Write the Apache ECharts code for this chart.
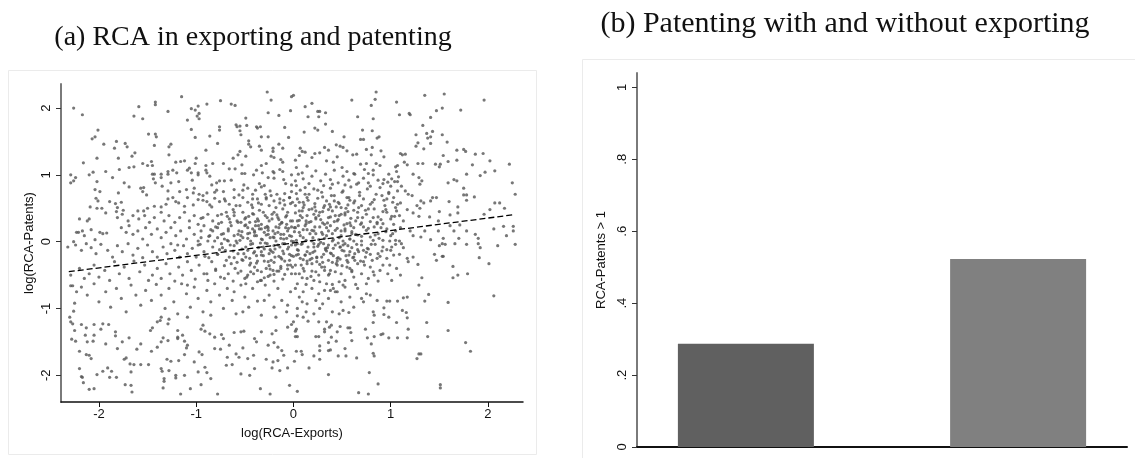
<!DOCTYPE html>
<html>
<head>
<meta charset="utf-8">
<script src="https://cdn.jsdelivr.net/npm/echarts@6/dist/echarts.min.js"></script>
<style>
  html, body { margin: 0; padding: 0; background: #fff; }
  #chart { width: 1135px; height: 458px; }
</style>
</head>
<body>
<div id="chart"></div>
<script>
// (a) log(RCA-Exports), log(RCA-Patents) pairs
const scatterUpperLeft = [
  [-2.26,2.00],[-2.17,1.90],[-1.15,2.17],[-1.42,2.09],[-1.42,2.05],[-1.59,2.02],[-1.29,1.95],[-1.64,1.88],[-1.55,1.84],[-1.05,1.99],
  [-1.01,1.97],[-0.98,2.03],[-0.99,1.88],[-0.97,1.92],[-0.97,1.84],[-0.89,2.06],[-0.75,2.11],[-0.64,2.06],[-0.60,2.04],[-1.09,1.82],
  [-1.05,1.68],[-1.01,1.56],[-0.76,1.72],[-0.76,1.67],[-0.86,1.58],[-0.78,1.47],[-0.90,1.37],[-2.01,1.67],[-2.04,1.57],[-2.07,1.54],
  [-1.95,1.46],[-1.82,1.50],[-1.84,1.40],[-1.73,1.47],[-1.71,1.42],[-1.49,1.61],[-1.42,1.61],[-1.41,1.57],[-1.43,1.44],[-1.26,1.46],
  [-1.28,1.42],[-1.28,1.30],[-1.63,1.33],[-1.66,1.28],[-1.80,1.25],[-2.02,1.25],[-2.16,1.18],[-1.55,1.17],[-1.50,1.14],[-1.46,1.20],
  [-1.45,1.14],[-1.69,1.11],[-1.64,1.12],[-1.79,1.08],[-1.93,1.05],[-2.06,1.04],[-2.10,1.00],[-2.29,1.00],[-2.24,0.96],[-2.26,0.91],
  [-2.29,0.88],[-1.86,0.96],[-1.74,0.88],[-1.69,0.82],[-2.02,0.90],[-2.04,0.78],[-1.99,0.75],[-1.80,0.73],[-2.03,0.65],[-2.01,0.61],
  [-2.09,0.52],[-2.02,0.50],[-1.97,0.50],[-1.89,0.60],[-1.83,0.57],[-1.77,0.59],[-1.81,0.51],[-1.82,0.45],[-1.75,0.47],[-1.93,0.43],
  [-2.20,0.34],[-2.12,0.31],[-2.10,0.34],[-2.23,0.14],[-2.21,0.14],[-2.17,0.16],[-2.15,0.09],[-2.08,0.18],[-1.99,0.14],[-1.96,0.12],
  [-1.92,0.13],[-2.04,0.03],[-2.26,0.00],[-1.57,0.80],[-1.54,0.81],[-1.55,0.75],[-1.51,0.70],[-1.45,1.01],[-1.43,1.01],[-1.36,1.01],
  [-1.36,0.96],[-1.44,0.94],[-1.42,0.88],[-1.29,1.01],[-1.29,1.05],[-1.24,1.07],[-1.26,0.88],[-1.21,1.19],[-1.16,1.20],[-1.12,1.21],
  [-1.00,1.25],[-1.01,1.17],[-0.90,1.14],[-0.90,1.07],[-0.89,1.03],[-0.83,1.17],[-0.72,1.17],[-1.07,1.10],[-1.09,1.07],[-0.98,1.03],
  [-0.98,1.00],[-1.20,1.03],[-1.18,0.90],[-1.05,1.03],[-1.04,0.92],[-0.86,0.98],[-0.84,0.85],[-0.79,0.88],[-0.76,0.91],[-0.71,0.91],
  [-0.64,0.92],[-0.66,1.09],[-0.60,1.09],[-0.62,1.25],[-0.57,1.30],[-0.55,1.35],[-0.53,1.02],[-0.50,1.02],[-0.53,1.15],[-0.49,1.28],
  [-0.58,1.72],[-0.55,1.73],[-0.55,1.66],[-0.48,1.74],[-0.59,1.75],[-0.54,1.60],[-0.49,1.85],[-0.38,1.72],[-0.34,1.72],[-0.37,1.70],
  [-0.46,1.51],[-0.46,1.46],[-0.44,1.42],[-0.33,1.57],[-0.26,1.57],[-0.35,1.43],[-0.33,1.37],[-0.27,2.24],[-0.23,2.12],[-0.26,1.93],
  [-0.15,1.89],[-0.02,2.17],[-0.03,1.96],[-0.09,1.71],[-0.05,1.56],[-0.15,1.46],[-0.11,1.40],[-0.21,1.40],[-0.21,1.35],[-0.23,1.28],
  [-0.20,1.26],[-0.13,1.23],[-0.11,1.19],[-0.33,1.14],[-0.28,1.17],[-0.38,1.07],[-0.32,1.03],[-0.21,1.05],[-0.20,1.03],[-0.14,1.08],
  [-0.11,1.05],[-0.41,1.00],[-0.26,0.96],[-0.20,0.95],[-0.35,0.87],[-0.33,0.82],[-0.30,0.84],[-0.10,0.93],[-0.08,0.87],[-0.02,1.00],
  [-0.02,0.85],
  [-1.35,0.83],[-1.29,0.76],[-1.17,0.75],[-1.10,0.78],[-1.03,0.73],[-1.02,0.80],[-0.97,0.71],[-0.89,0.73],[-0.79,0.77],[-0.72,0.75],
  [-0.61,0.78],[-0.51,0.85],[-0.47,0.80],[-0.42,0.71],[-0.39,0.77],[-0.29,0.71],[-0.24,0.76],[-0.17,0.71],[-0.09,0.72],[-0.02,0.75],
  [-1.60,0.46],[-1.54,0.46],[-1.50,0.50],[-1.43,0.53],[-1.36,0.52],[-1.31,0.56],[-1.29,0.64],[-1.24,0.66],[-1.21,0.60],[-1.18,0.58],
  [-1.12,0.53],[-1.09,0.66],[-1.03,0.55],[-0.98,0.63],[-0.93,0.69],[-0.89,0.60],[-0.86,0.55],[-0.81,0.65],[-0.76,0.60],[-0.71,0.64],
  [-0.66,0.56],[-0.61,0.66],[-0.55,0.54],[-0.52,0.66],[-0.47,0.59],[-0.42,0.51],[-0.37,0.64],[-0.33,0.56],[-0.28,0.66],[-0.25,0.54],
  [-0.20,0.61],[-0.14,0.64],[-0.09,0.55],[-0.04,0.66],[-0.01,0.59],
  [-1.81,0.36],[-1.76,0.41],[-1.70,0.31],[-1.65,0.39],[-1.59,0.34],[-1.53,0.39],[-1.48,0.29],[-1.43,0.36],[-1.36,0.44],[-1.33,0.31],
  [-1.28,0.39],[-1.22,0.29],[-1.17,0.36],[-1.12,0.44],[-1.07,0.31],[-1.02,0.39],[-0.98,0.26],[-0.93,0.36],[-0.88,0.41],[-0.83,0.31],
  [-0.78,0.39],[-0.74,0.29],[-0.69,0.44],[-0.66,0.34],[-0.61,0.39],[-0.57,0.29],[-0.52,0.44],[-0.49,0.36],[-0.45,0.29],[-0.41,0.41],
  [-0.37,0.34],[-0.33,0.26],[-0.29,0.39],[-0.25,0.31],[-0.20,0.44],[-0.16,0.36],[-0.12,0.29],[-0.07,0.39],[-0.03,0.31],
  [-1.77,0.21],[-1.72,0.14],[-1.69,0.24],[-1.65,0.11],[-1.60,0.16],[-1.55,0.04],[-1.52,0.21],[-1.46,0.11],[-1.40,0.19],[-1.36,0.06],
  [-1.31,0.14],[-1.26,0.21],[-1.21,0.09],[-1.16,0.16],[-1.10,0.04],[-1.07,0.21],[-1.02,0.11],[-0.98,0.01],[-0.95,0.16],[-0.92,0.24],
  [-0.86,0.09],[-0.83,0.16],[-0.81,0.01],[-0.78,0.21],[-0.74,0.11],[-0.71,0.04],[-0.67,0.16],[-0.64,0.24],[-0.61,0.09],[-0.59,0.01],
  [-0.56,0.16],[-0.52,0.06],[-0.50,0.24],[-0.47,0.12],[-0.44,0.01],[-0.42,0.19],[-0.38,0.09],[-0.36,0.24],[-0.33,0.04],[-0.30,0.14],
  [-0.26,0.21],[-0.24,0.06],[-0.21,0.16],[-0.18,0.01],[-0.15,0.21],[-0.13,0.11],[-0.10,0.04],[-0.06,0.16],[-0.04,0.09],[-0.02,0.22],
  [-0.54,0.29],[-0.47,0.21],[-0.40,0.14],[-0.33,0.19],[-0.26,0.11],[-0.20,0.06],[-0.14,0.26],[-0.08,0.21],[-0.02,0.01],[-0.57,0.11],
  [-0.67,0.01],[-0.78,0.06],[-0.88,0.01],[-0.95,0.06]
];

const scatterUpperRight = [
  [0.00,2.19],[0.12,2.02],[0.19,2.07],[0.15,1.87],[0.25,1.95],[0.27,1.95],[0.26,1.87],[0.33,1.93],[0.33,1.76],[0.22,1.70],
  [0.25,1.67],[0.11,1.64],[0.40,1.65],[0.60,2.12],[0.85,2.24],[0.84,2.13],[0.80,2.04],[0.82,1.84],[0.66,1.87],[0.71,1.67],
  [0.81,1.66],[0.52,1.57],[0.69,1.53],[0.72,1.53],[0.86,1.55],[0.88,1.57],[1.06,2.09],[1.09,1.90],[1.19,1.92],[1.20,1.90],
  [1.35,2.19],[1.55,2.21],[1.47,1.96],[1.53,2.00],[1.41,1.86],[1.72,1.97],[1.96,2.12],[1.33,1.74],[1.37,1.62],[1.41,1.57],
  [1.38,1.55],[1.43,1.65],[1.53,1.60],[1.26,1.60],[1.28,1.48],[1.26,1.43],[1.41,1.47],[1.34,1.39],[1.58,1.49],[1.68,1.37],
  [1.77,1.35],[1.75,1.38],[1.87,1.31],[1.95,1.32],[1.59,1.20],[1.54,1.29],[1.51,1.16],[1.50,1.12],[1.46,1.16],[1.68,1.22],
  [1.84,1.15],[2.02,1.21],[2.22,1.16],[2.07,1.06],[1.97,1.04],[1.92,0.99],[1.78,1.01],[1.65,0.93],[1.59,0.88],[1.68,0.91],
  [2.25,0.88],[2.28,0.71],[1.86,0.67],[1.75,0.80],[1.75,0.70],[1.78,0.70],[1.78,0.62],[2.07,0.58],[2.12,0.58],[2.02,0.48],
  [1.96,0.41],[2.17,0.50],[1.60,0.60],[1.50,0.45],[1.69,0.52],[1.69,0.43],[1.61,0.40],[1.40,0.37],[1.49,0.31],[1.47,0.66],
  [1.43,0.66],[1.41,0.61],[1.31,0.61],[1.34,0.58],[1.30,0.86],[1.32,0.91],[1.29,0.96],[1.23,1.01],[1.28,1.17],[1.33,1.17],
  [1.17,1.15],[1.14,1.19],[1.10,1.32],[1.12,1.30],[1.07,1.14],[1.15,1.31],[0.90,1.36],[0.93,1.27],[0.81,1.41],[0.80,1.30],
  [0.75,1.38],[0.85,1.17],[0.89,1.14],[0.75,1.17],[0.73,1.08],[0.69,1.16],[0.65,1.31],[0.61,1.30],[0.55,1.36],[0.51,1.41],
  [0.48,1.43],[0.44,1.45],[0.36,1.37],[0.32,1.41],[0.27,1.33],[0.22,1.32],[0.19,1.26],[0.07,1.40],[0.09,1.35],[0.12,1.34],
  [0.06,1.29],[0.02,1.22],[0.45,1.27],[0.34,1.21],[0.41,1.19],[0.50,1.11],[0.55,1.05],[0.63,1.01],[0.77,1.02],[0.82,1.07],
  [1.05,1.12],[1.06,1.05],[1.08,0.97],[1.04,0.90],[1.07,0.90],[0.93,0.93],[0.97,0.89],[1.00,0.83],[1.11,0.83],[1.15,0.76],
  [1.18,0.71],[1.22,0.69],[1.27,0.54],[1.30,0.50],[1.17,0.48],[1.23,0.43],[1.29,0.38],[1.07,0.76],[1.03,0.66],[1.10,0.58],
  [1.06,0.46],[1.01,0.38],[1.13,0.31],[1.20,0.16],[1.23,0.09],[1.35,0.16],[1.31,0.07],[1.41,0.03],[1.65,0.16],[1.54,0.05],
  [1.70,0.05],[1.87,0.11],[2.06,0.19],[2.16,0.23],[2.26,0.23],[2.26,0.16],[2.19,0.09],[1.90,0.05],[1.78,0.16],[1.71,0.25],
  [1.61,0.24],[1.49,0.16],
  [0.03,1.11],[0.09,1.03],[0.14,1.13],[0.19,0.98],[0.23,1.06],[0.28,0.91],[0.33,1.01],[0.38,0.93],[0.42,1.07],[0.46,0.88],
  [0.51,0.98],[0.57,0.92],[0.62,1.02],[0.67,0.88],[0.72,0.95],[0.77,0.88],[0.82,1.00],[0.87,0.92],[0.92,0.87],[0.98,1.01],
  [1.01,0.94],[0.02,0.91],[0.10,0.94],[0.16,0.87],[0.05,1.01],
  [0.03,0.84],[0.07,0.77],[0.12,0.81],[0.16,0.71],[0.21,0.79],[0.25,0.65],[0.29,0.74],[0.34,0.61],[0.38,0.80],[0.42,0.69],
  [0.46,0.59],[0.51,0.76],[0.55,0.66],[0.59,0.82],[0.63,0.61],[0.68,0.74],[0.72,0.64],[0.76,0.79],[0.81,0.59],[0.85,0.71],
  [0.89,0.81],[0.93,0.62],[0.98,0.74],[1.02,0.59],[0.04,0.64],[0.10,0.59],[0.14,0.66],[0.22,0.57],[0.31,0.84],[0.40,0.86],
  [0.53,0.85],[0.65,0.86],[0.79,0.83],[0.91,0.69],[0.96,0.64],
  [0.02,0.54],[0.06,0.46],[0.10,0.51],[0.14,0.39],[0.19,0.49],[0.23,0.34],[0.27,0.44],[0.32,0.54],[0.36,0.36],[0.40,0.46],
  [0.45,0.31],[0.49,0.51],[0.53,0.40],[0.58,0.28],[0.62,0.47],[0.66,0.36],[0.70,0.54],[0.75,0.41],[0.79,0.30],[0.83,0.49],
  [0.87,0.37],[0.92,0.27],[0.96,0.44],[1.00,0.34],[1.05,0.51],[1.09,0.39],[0.04,0.31],[0.09,0.36],[0.13,0.27],[0.21,0.41],
  [0.30,0.28],[0.38,0.52],[0.47,0.39],[0.56,0.55],[0.69,0.26],[0.77,0.49],[0.86,0.29],[0.94,0.54],[1.03,0.26],
  [0.02,0.21],[0.06,0.14],[0.10,0.06],[0.14,0.18],[0.19,0.01],[0.23,0.12],[0.27,0.22],[0.32,0.05],[0.36,0.16],[0.40,0.01],
  [0.45,0.20],[0.49,0.09],[0.53,0.16],[0.58,0.04],[0.62,0.21],[0.66,0.10],[0.70,0.01],[0.75,0.17],[0.79,0.07],[0.83,0.22],
  [0.87,0.12],[0.92,0.02],[0.96,0.19],[1.00,0.09],[1.05,0.16],[1.09,0.01],[0.03,0.02],[0.12,0.24],[0.21,0.16],[0.30,0.11],
  [0.38,0.24],[0.51,0.01],[0.60,0.12],[0.72,0.22],[0.82,0.02],[0.90,0.21],[0.99,0.01]
];

const scatterLowerLeft = [
  [-2.29,-0.66],[-2.27,-0.66],[-2.23,-0.75],[-2.25,-0.92],[-2.26,-1.04],[-2.30,-1.13],[-2.29,-1.20],[-2.27,-1.23],[-2.25,-1.33],[-2.28,-1.46],
  [-2.24,-1.49],[-2.20,-1.64],[-2.13,-1.69],[-2.10,-1.70],[-2.08,-1.75],[-2.20,-1.90],[-2.18,-2.02],[-2.17,-2.03],[-2.16,-2.11],[-2.10,-2.21],
  [-2.05,-2.20],[-2.02,-1.99],[-1.96,-1.94],[-1.91,-1.89],[-1.89,-2.03],[-1.82,-2.03],[-1.87,-1.94],[-2.12,-1.50],[-2.06,-1.49],[-2.14,-1.40],
  [-2.05,-1.40],[-2.18,-1.24],[-2.13,-1.29],[-1.98,-1.31],[-1.93,-1.53],[-1.83,-1.35],[-1.81,-1.60],[-1.74,-1.76],[-1.72,-1.74],[-1.68,-1.83],
  [-1.64,-1.84],[-1.57,-1.84],[-1.73,-2.14],[-1.67,-2.15],[-1.66,-2.25],[-1.67,-1.95],[-1.49,-1.84],[-1.36,-1.90],[-1.35,-1.94],[-1.33,-2.05],
  [-1.33,-2.09],[-1.34,-2.19],[-1.28,-1.93],[-1.21,-2.00],[-1.21,-2.04],[-1.12,-2.00],[-1.16,-2.28],[-1.06,-2.20],[-0.98,-1.95],[-0.95,-2.14],
  [-0.91,-1.88],[-0.89,-1.96],[-0.85,-2.05],[-0.78,-2.28],[-0.69,-1.85],[-0.63,-1.84],[-0.54,-1.98],[-0.45,-2.00],[-0.40,-1.90],[-0.34,-2.20],
  [-0.24,-2.28],[-0.22,-1.89],[-0.14,-1.93],[-0.21,-1.80],[-0.16,-1.78],[-0.06,-1.89],[-0.04,-2.15],[-0.68,-1.73],[-0.47,-1.75],[-0.41,-1.70],
  [-0.28,-1.76],[-0.56,-1.73],[-0.97,-1.65],[-0.94,-1.69],[-1.02,-1.80],[-1.12,-1.69],[-1.18,-1.78],[-1.26,-1.79],[-1.30,-1.76],[-1.46,-1.64],
  [-1.40,-1.58],[-1.36,-1.50],[-1.34,-1.44],[-1.29,-1.48],[-1.19,-1.43],[-1.19,-1.45],[-1.14,-1.40],[-1.12,-1.49],[-1.09,-1.55],[-1.10,-1.59],
  [-1.61,-1.61],[-1.69,-1.44],[-1.57,-1.53],[-1.76,-1.50],[-1.83,-1.41],[-1.90,-1.24],[-1.96,-1.23],[-2.05,-1.24],[-1.47,-1.33],[-1.45,-1.29],
  [-1.40,-1.20],[-1.37,-1.18],[-1.29,-1.23],[-1.28,-1.16],[-1.19,-1.33],[-1.09,-1.13],[-0.93,-1.25],[-0.95,-1.31],[-0.91,-1.34],[-0.86,-1.38],
  [-0.81,-1.43],[-0.74,-1.39],[-0.72,-1.45],[-0.81,-1.60],[-0.75,-1.61],[-0.66,-1.55],[-0.59,-1.68],[-0.52,-1.59],[-0.61,-1.36],[-0.54,-1.35],
  [-0.51,-1.34],[-0.40,-1.45],[-0.38,-1.50],[-0.26,-1.55],[-0.20,-1.51],[-0.16,-1.58],[-0.12,-1.63],[-0.10,-1.70],[-0.33,-1.35],[-0.22,-1.38],
  [-0.18,-1.33],[-0.06,-1.28],[-0.02,-1.24],
  [-2.32,-0.08],[-2.24,-0.05],[-2.18,-0.13],[-2.13,-0.03],[-2.08,-0.09],[-2.03,-0.18],[-1.98,-0.04],[-1.91,-0.13],[-1.86,-0.23],[-1.81,-0.06],
  [-1.76,-0.15],[-1.70,-0.03],[-1.65,-0.20],[-1.60,-0.10],[-1.55,-0.24],[-1.50,-0.05],[-1.45,-0.15],[-1.40,-0.23],[-1.34,-0.08],[-1.30,-0.18],
  [-1.26,-0.03],[-1.22,-0.13],[-1.17,-0.23],[-1.13,-0.06],[-1.09,-0.18],[-1.04,-0.10],[-1.00,-0.23],[-0.96,-0.04],[-0.92,-0.15],[-0.87,-0.24],
  [-0.83,-0.08],[-0.78,-0.19],[-0.74,-0.03],[-0.70,-0.13],[-0.66,-0.23],[-0.61,-0.06],[-0.57,-0.18],[-0.53,-0.11],[-0.49,-0.23],[-0.44,-0.04],
  [-0.40,-0.15],[-0.36,-0.09],[-0.31,-0.21],[-0.27,-0.03],[-0.23,-0.14],[-0.19,-0.23],[-0.14,-0.08],[-0.10,-0.18],[-0.06,-0.11],[-0.02,-0.21],
  [-1.19,-0.05],[-0.61,-0.24],[-0.42,-0.03],[-0.30,-0.11],[-0.20,-0.06],[-0.11,-0.03],[-0.02,-0.05],[-0.47,-0.13],[-0.33,-0.20],[-0.25,-0.18],
  [-0.13,-0.24],
  [-2.29,-0.50],[-2.20,-0.40],[-2.15,-0.55],[-2.10,-0.48],[-2.05,-0.35],[-2.00,-0.53],[-1.94,-0.43],[-1.89,-0.58],[-1.84,-0.30],[-1.79,-0.48],
  [-1.74,-0.38],[-1.69,-0.55],[-1.64,-0.29],[-1.58,-0.45],[-1.53,-0.35],[-1.49,-0.58],[-1.45,-0.50],[-1.40,-0.40],[-1.36,-0.55],[-1.31,-0.33],
  [-1.27,-0.48],[-1.22,-0.59],[-1.18,-0.38],[-1.14,-0.50],[-1.09,-0.30],[-1.05,-0.43],[-1.01,-0.56],[-0.97,-0.35],[-0.92,-0.48],[-0.88,-0.58],
  [-0.84,-0.30],[-0.80,-0.43],[-0.75,-0.53],[-0.71,-0.36],[-0.67,-0.48],[-0.62,-0.59],[-0.58,-0.31],[-0.54,-0.44],[-0.50,-0.55],[-0.45,-0.35],
  [-0.41,-0.48],[-0.37,-0.29],[-0.33,-0.58],[-0.28,-0.40],[-0.24,-0.50],[-0.20,-0.31],[-0.15,-0.44],[-0.11,-0.56],[-0.06,-0.35],[-0.02,-0.48],
  [-0.52,-0.28],[-0.40,-0.38],[-0.33,-0.45],[-0.26,-0.30],[-0.13,-0.40],[-0.04,-0.28],[-0.47,-0.50],[-0.30,-0.54],[-0.20,-0.59],[-0.09,-0.49],
  [-0.37,-0.60],[-0.21,-0.43],
  [-2.18,-0.68],[-2.12,-0.80],[-2.05,-0.63],[-2.00,-0.90],[-1.93,-0.75],[-1.88,-0.98],[-1.82,-0.70],[-1.77,-0.85],[-1.72,-1.05],[-1.67,-0.65],
  [-1.62,-0.80],[-1.57,-0.95],[-1.52,-0.73],[-1.46,-0.88],[-1.41,-0.64],[-1.36,-0.80],[-1.32,-1.00],[-1.28,-0.70],[-1.23,-0.90],[-1.19,-1.08],
  [-1.15,-0.63],[-1.10,-0.78],[-1.06,-0.98],[-1.02,-0.68],[-0.98,-0.85],[-0.93,-1.05],[-0.89,-0.73],[-0.85,-0.90],[-0.81,-0.63],[-0.76,-0.80],
  [-0.72,-1.00],[-0.68,-0.70],[-0.63,-0.88],[-0.59,-1.08],[-0.54,-0.65],[-0.50,-0.83],[-0.46,-0.98],[-0.42,-0.70],[-0.37,-0.89],[-0.33,-1.10],
  [-0.29,-0.65],[-0.25,-0.80],[-0.20,-0.98],[-0.16,-0.70],[-0.12,-0.88],[-0.07,-1.05],[-0.03,-0.75],[-0.61,-0.75],[-0.52,-1.05],[-0.30,-0.88],
  [-0.18,-1.13],[-0.06,-0.95],[-1.36,-1.13],[-0.85,-1.10],[-1.09,-0.65],[-0.49,-0.63]
];

const scatterLowerRight = [
  [2.28,-0.04],[2.10,-0.06],[1.90,-0.03],[1.92,-0.09],[1.78,-0.04],[1.66,-0.03],[1.56,-0.04],[1.53,-0.03],[1.50,-0.06],[1.45,-0.19],
  [1.47,-0.28],[1.53,-0.22],[1.54,-0.22],[1.91,-0.24],[2.01,-0.33],[1.64,-0.37],[1.69,-0.50],[1.64,-0.54],[1.79,-0.48],[2.06,-0.81],
  [1.59,-0.91],[1.39,-0.79],[1.35,-0.89],[1.32,-0.54],[1.29,-0.65],[1.28,-0.34],[1.23,-0.23],[1.18,-0.30],[1.37,-1.21],[1.59,-1.33],
  [1.38,-1.42],[1.77,-1.51],[1.82,-1.64],[1.29,-1.68],[1.31,-1.68],[1.27,-1.75],[1.51,-2.14],[1.51,-2.19],[1.18,-1.31],[1.17,-1.44],
  [1.07,-1.44],[0.98,-1.44],[0.92,-1.38],[0.90,-1.39],[0.83,-1.42],[0.76,-1.44],[0.80,-1.53],[0.74,-1.31],[0.82,-1.21],[0.82,-1.05],
  [0.83,-1.10],[0.93,-0.99],[0.93,-1.09],[0.96,-0.89],[1.13,-0.84],[1.17,-0.83],[1.12,-1.03],[1.16,-1.06],[1.17,-1.14],[0.82,-1.67],
  [0.83,-1.71],[0.78,-1.96],[0.87,-2.13],[0.77,-2.28],[0.67,-2.26],[0.36,-1.99],[0.16,-1.89],[0.04,-2.24],[0.01,-1.79],[0.03,-1.64],
  [0.08,-1.64],[0.09,-1.69],[0.21,-1.71],[0.27,-1.76],[0.27,-1.63],[0.27,-1.56],[0.36,-1.63],[0.38,-1.62],[0.46,-1.71],[0.54,-1.71],
  [0.53,-1.60],[0.65,-1.74],[0.60,-1.48],[0.59,-1.36],[0.56,-1.29],[0.58,-1.29],[0.44,-1.49],[0.36,-1.51],[0.39,-1.43],[0.45,-1.35],
  [0.32,-1.31],[0.32,-1.35],[0.23,-1.42],[0.26,-1.42],[0.37,-1.28],[0.48,-1.27],[0.34,-1.20],[0.39,-1.25],[0.03,-1.31],[0.02,-1.34],
  [0.04,-1.42],[0.02,-1.42],[0.00,-1.20],[0.15,-1.19],[0.26,-1.20],[0.04,-1.11],[0.10,-1.13],[0.99,-0.89],[1.07,-0.89],[0.98,-1.13],
  [1.06,-1.21],
  [0.02,-0.05],[0.05,-0.13],[0.09,-0.03],[0.12,-0.20],[0.15,-0.08],[0.19,-0.25],[0.22,-0.14],[0.26,-0.04],[0.29,-0.23],[0.33,-0.10],
  [0.36,-0.28],[0.39,-0.18],[0.43,-0.05],[0.46,-0.24],[0.50,-0.13],[0.53,-0.03],[0.57,-0.20],[0.60,-0.09],[0.63,-0.28],[0.67,-0.15],
  [0.70,-0.05],[0.74,-0.23],[0.77,-0.11],[0.81,-0.28],[0.84,-0.04],[0.87,-0.18],[0.92,-0.08],[0.96,-0.25],[1.00,-0.13],[1.05,-0.04],
  [1.09,-0.19],[1.13,-0.09],[1.17,-0.25],[0.07,-0.25],[0.17,-0.18],[0.31,-0.03],[0.45,-0.29],[0.58,-0.15],[0.72,-0.13],[0.86,-0.25],
  [1.03,-0.20],[1.11,-0.03],[0.03,-0.20],[0.14,-0.29],[0.24,-0.23],[0.34,-0.14],[0.48,-0.08],[0.55,-0.28],[0.65,-0.04],[0.79,-0.19],
  [0.91,-0.14],[0.21,-0.03],[0.41,-0.10],[0.62,-0.23],[0.69,-0.29],
  [0.02,-0.35],[0.06,-0.48],[0.10,-0.40],[0.14,-0.55],[0.19,-0.33],[0.23,-0.45],[0.27,-0.60],[0.32,-0.38],[0.36,-0.50],[0.40,-0.64],
  [0.45,-0.35],[0.49,-0.48],[0.53,-0.58],[0.58,-0.40],[0.62,-0.53],[0.66,-0.33],[0.70,-0.48],[0.75,-0.63],[0.79,-0.38],[0.83,-0.50],
  [0.87,-0.59],[0.92,-0.35],[0.97,-0.48],[1.01,-0.58],[1.06,-0.40],[1.10,-0.50],[0.04,-0.63],[0.13,-0.64],[0.21,-0.58],[0.30,-0.31],
  [0.38,-0.43],[0.47,-0.60],[0.56,-0.31],[0.64,-0.64],[0.73,-0.35],[0.82,-0.45],[0.89,-0.43],[0.99,-0.35],[0.09,-0.54],[0.26,-0.50],
  [0.43,-0.45],[0.60,-0.43],[0.77,-0.55],[0.51,-0.65],[0.34,-0.63],
  [0.02,-0.70],[0.06,-0.83],[0.10,-0.75],[0.14,-0.93],[0.19,-0.70],[0.23,-0.88],[0.27,-1.00],[0.32,-0.73],[0.36,-0.85],[0.40,-1.05],
  [0.45,-0.75],[0.49,-0.90],[0.53,-0.68],[0.58,-0.83],[0.62,-0.98],[0.66,-0.70],[0.70,-0.85],[0.75,-0.78],[0.79,-0.80],[0.04,-1.00],
  [0.13,-1.05],[0.21,-1.08],[0.30,-0.93],[0.38,-0.73],[0.47,-1.08],[0.57,-1.06],[0.41,-0.70],[0.43,-0.75],[0.86,-0.88],[0.72,-0.90],
  [0.09,-0.90],[0.26,-0.78],[0.51,-1.03]
];

// the darker core around the origin
const scatterCore = [
  [-0.72,0.12],[-0.65,-0.05],[-0.58,0.31],[-0.51,-0.18],[-0.47,0.05],[-0.42,0.42],[-0.38,-0.32],[-0.35,0.19],[-0.31,-0.08],[-0.27,0.36],
  [-0.24,-0.41],[-0.21,0.07],[-0.18,0.51],[-0.15,-0.22],[-0.12,0.28],[-0.09,-0.03],[-0.06,0.44],[-0.03,-0.35],[0.01,0.15],[0.04,-0.12],
  [0.07,0.39],[0.10,-0.27],[0.13,0.02],[0.16,0.48],[0.19,-0.44],[0.22,0.22],[0.25,-0.07],[0.28,0.33],[0.31,-0.19],[0.34,0.09],
  [0.37,0.56],[0.40,-0.31],[0.43,0.17],[0.46,-0.02],[0.49,0.41],[0.52,-0.14],[0.55,0.27],[0.58,0.62],[0.61,-0.24],[0.64,0.11],
  [-0.69,-0.28],[-0.62,0.48],[-0.55,0.02],[-0.49,0.25],[-0.44,-0.45],[-0.40,0.09],[-0.36,0.58],[-0.33,-0.15],[-0.29,0.21],[-0.26,-0.52],
  [-0.22,0.34],[-0.19,-0.11],[-0.16,0.14],[-0.13,-0.37],[-0.10,0.62],[-0.07,0.05],[-0.04,-0.19],[-0.01,0.31],[0.02,-0.48],[0.05,0.24],
  [0.08,-0.04],[0.11,0.55],[0.14,-0.33],[0.17,0.12],[0.20,-0.16],[0.23,0.46],[0.26,0.03],[0.29,-0.38],[0.32,0.26],[0.35,-0.09],
  [0.38,0.37],[0.41,-0.21],[0.44,0.52],[0.47,0.06],[0.50,-0.36],[0.53,0.19],[0.56,-0.06],[0.59,0.35],[0.62,0.01],[0.66,0.44],
  [-0.80,0.22],[-0.76,-0.12],[-0.68,0.38],[-0.60,-0.40],[-0.53,0.15],[-0.45,-0.25],[-0.39,0.30],[-0.34,-0.02],[-0.28,0.10],[-0.23,-0.28],
  [-0.17,0.40],[-0.11,-0.14],[-0.05,0.20],[0.00,0.00],[0.06,0.32],[0.12,-0.20],[0.18,0.30],[0.24,-0.30],[0.30,0.45],[0.36,-0.05],
  [0.42,0.30],[0.48,-0.26],[0.54,0.50],[0.60,0.15],[0.70,0.28],[0.76,-0.10],[0.82,0.36],[0.88,0.05],[0.95,0.48],[1.02,0.12],
  [-0.95,0.35],[-0.91,-0.22],[-0.87,0.08],[-0.84,0.52],[-0.80,-0.41],[-0.77,0.27],[-0.73,-0.09],[-0.70,0.61],[-0.67,0.19],[-0.64,-0.33],
  [-0.61,0.44],[-0.58,-0.02],[-0.56,0.70],[-0.53,-0.27],[-0.50,0.34],[-0.48,-0.53],[-0.45,0.13],[-0.43,0.55],[-0.41,-0.17],[-0.39,0.24],
  [-0.37,-0.43],[-0.35,0.47],[-0.32,0.03],[-0.30,-0.29],[-0.28,0.64],[-0.26,0.17],[-0.24,-0.12],[-0.22,0.41],[-0.20,-0.49],[-0.18,0.22],
  [-0.16,-0.05],[-0.14,0.58],[-0.12,-0.26],[-0.10,0.11],[-0.08,0.37],[-0.06,-0.41],[-0.04,0.66],[-0.02,0.08],[0.00,-0.22],[0.02,0.43],
  [0.04,-0.03],[0.06,0.59],[0.08,-0.35],[0.10,0.18],[0.12,0.71],[0.14,-0.15],[0.16,0.29],[0.18,-0.52],[0.20,0.06],[0.22,0.52],
  [0.24,-0.24],[0.26,0.39],[0.28,-0.01],[0.30,0.67],[0.32,-0.43],[0.34,0.21],[0.36,0.48],[0.38,-0.17],[0.40,0.12],[0.42,0.61],
  [0.44,-0.33],[0.46,0.33],[0.48,-0.08],[0.50,0.74],[0.52,0.25],[0.54,-0.21],[0.56,0.45],[0.58,0.04],[0.60,-0.45],[0.62,0.58],
  [0.64,0.31],[0.66,-0.12],[0.68,0.69],[0.70,0.08],[0.72,-0.30],[0.74,0.47],[0.77,0.20],[0.80,-0.04],[0.83,0.63],[0.86,0.27],
  [0.89,-0.22],[0.92,0.45],[0.95,0.15],[0.98,0.72],[1.01,-0.08],[1.04,0.38],[1.07,0.56],[1.10,0.21],
  [-0.98,-0.05],[-0.93,0.62],[-0.89,-0.48],[-0.85,0.18],[-0.81,0.74],[-0.78,-0.19],[-0.74,0.41],[-0.71,-0.55],[-0.68,0.02],[-0.65,0.29],
  [-0.62,-0.14],[-0.59,0.54],[-0.57,-0.47],[-0.54,0.09],[-0.52,0.77],[-0.49,-0.08],[-0.46,0.38],[-0.44,-0.32],[-0.42,0.64],[-0.40,0.16],
  [-0.38,-0.21],[-0.36,0.31],[-0.34,-0.58],[-0.31,0.44],[-0.29,-0.02],[-0.27,0.23],[-0.25,-0.36],[-0.23,0.69],[-0.21,-0.16],[-0.19,0.12],
  [-0.17,-0.44],[-0.15,0.33],[-0.13,0.05],[-0.11,0.49],[-0.09,-0.29],[-0.07,0.26],[-0.05,-0.08],[-0.03,0.57],[-0.01,-0.38],[0.01,0.21],
  [0.03,0.72],[0.05,-0.19],[0.07,0.09],[0.09,0.46],[0.11,-0.44],[0.13,0.31],[0.15,0.62],[0.17,-0.27],[0.19,0.17],[0.21,-0.08],
  [0.23,0.36],[0.25,0.77],[0.27,-0.34],[0.29,0.14],[0.31,0.51],[0.33,-0.12],[0.35,0.28],[0.37,-0.48],[0.39,0.69],[0.41,0.03],
  [0.43,0.39],[0.45,-0.25],[0.47,0.57],[0.49,0.16],[0.51,-0.05],[0.53,0.43],[0.55,-0.38],[0.57,0.66],[0.59,0.24],[0.63,-0.18],
  [0.67,0.51],[0.71,0.36],[0.75,-0.16],[0.79,0.56],[0.84,0.10],[0.90,0.33],[0.96,-0.12],[1.05,0.02]
];

// fitted line, read at both ends
const fitExports = [-2.31, 2.25];
const fitPatents = [-0.45, 0.40];

// (b) share with RCA-Patents > 1, without / with export RCA
const barGroups = [0.4, 1.4];
const barShares = [0.287, 0.523];
const barColors = ['#606060', '#808080'];

const patentTicks = [0, 0.2, 0.4, 0.6, 0.8, 1];
const logTicks = [-2, -1, 0, 1, 2];

const chart = echarts.init(document.getElementById('chart'));

const sansFont = 'Liberation Sans, Arial, sans-serif';
const serifFont = 'Liberation Serif, Times New Roman, serif';

const points = scatterUpperLeft.concat(scatterUpperRight, scatterLowerLeft, scatterLowerRight, scatterCore);

const options = {
  animation: false,
  backgroundColor: '#fff',
  graphic: [
    { type: 'rect', shape: { x: 8.5, y: 70.5, width: 528, height: 384 }, style: { fill: 'none', stroke: '#ebebeb', lineWidth: 1 }, z: -1 },
    { type: 'rect', shape: { x: 582.5, y: 59.5, width: 600, height: 420 }, style: { fill: 'none', stroke: '#ebebeb', lineWidth: 1 }, z: -1 },
    { type: 'text', x: 253, y: 38, style: { text: '(a) RCA in exporting and patenting', font: '28px ' + serifFont, fill: '#111', textAlign: 'center', textVerticalAlign: 'middle' } },
    { type: 'text', x: 845, y: 24, style: { text: '(b) Patenting with and without exporting', font: '30px ' + serifFont, fill: '#111', textAlign: 'center', textVerticalAlign: 'middle' } }
  ],
  grid: [
    { left: 61, top: 84, width: 462, height: 318 },
    { left: 637, top: 73, width: 490, height: 374 }
  ],
  xAxis: [
    {
      gridIndex: 0, type: 'value', min: -2.39, max: 2.36,
      name: 'log(RCA-Exports)', nameLocation: 'middle', nameGap: 25,
      nameTextStyle: { color: '#111', fontFamily: sansFont, fontSize: 13 },
      axisLine: { show: true, onZero: false, lineStyle: { color: '#111', width: 1.5 } },
      axisTick: { show: true, length: 5, customValues: logTicks, lineStyle: { color: '#111' } },
      axisLabel: { customValues: logTicks, color: '#111', fontFamily: sansFont, fontSize: 13, margin: 6 },
      splitLine: { show: false }
    },
    {
      gridIndex: 1, type: 'value', min: 0, max: 1.8,
      axisLine: { show: true, onZero: false, lineStyle: { color: '#111', width: 2 } },
      axisTick: { show: false },
      axisLabel: { show: false },
      splitLine: { show: false }
    }
  ],
  yAxis: [
    {
      gridIndex: 0, type: 'value', min: -2.40, max: 2.36,
      name: 'log(RCA-Patents)', nameLocation: 'middle', nameGap: 25,
      nameTextStyle: { color: '#111', fontFamily: sansFont, fontSize: 13 },
      axisLine: { show: true, onZero: false, lineStyle: { color: '#7a7a7a', width: 2 } },
      axisTick: { show: true, length: 5, customValues: logTicks, lineStyle: { color: '#333' } },
      axisLabel: { customValues: logTicks, rotate: 90, color: '#111', fontFamily: sansFont, fontSize: 13, margin: 8 },
      splitLine: { show: false }
    },
    {
      gridIndex: 1, type: 'value', min: 0, max: 1.04,
      name: 'RCA-Patents > 1', nameLocation: 'middle', nameGap: 29,
      nameTextStyle: { color: '#111', fontFamily: sansFont, fontSize: 13 },
      axisLine: { show: true, onZero: false, lineStyle: { color: '#7a7a7a', width: 2 } },
      axisTick: { show: true, length: 5, customValues: patentTicks, lineStyle: { color: '#333' } },
      axisLabel: {
        customValues: patentTicks, rotate: 90, color: '#111', fontFamily: sansFont, fontSize: 13, margin: 8,
        formatter: v => (v === 0 ? '0' : v === 1 ? '1' : String(+v.toFixed(1)).replace(/^0/, ''))
      },
      splitLine: { show: false }
    }
  ],
  series: [
    {
      type: 'scatter', xAxisIndex: 0, yAxisIndex: 0,
      data: points,
      symbol: 'circle', symbolSize: 3.2,
      itemStyle: { color: '#555' },
      silent: true
    },
    {
      type: 'line', xAxisIndex: 0, yAxisIndex: 0,
      data: fitExports.map((x, i) => [x, fitPatents[i]]),
      symbol: 'none',
      lineStyle: { color: '#000', width: 1.3, type: [6, 3] },
      z: 5, silent: true
    },
    {
      type: 'bar', xAxisIndex: 1, yAxisIndex: 1,
      barWidth: 136,
      data: barShares.map((v, i) => ({ value: [barGroups[i], v], itemStyle: { color: barColors[i] } })),
      silent: true
    }
  ]
};

chart.setOption(options);
</script>
</body>
</html>
